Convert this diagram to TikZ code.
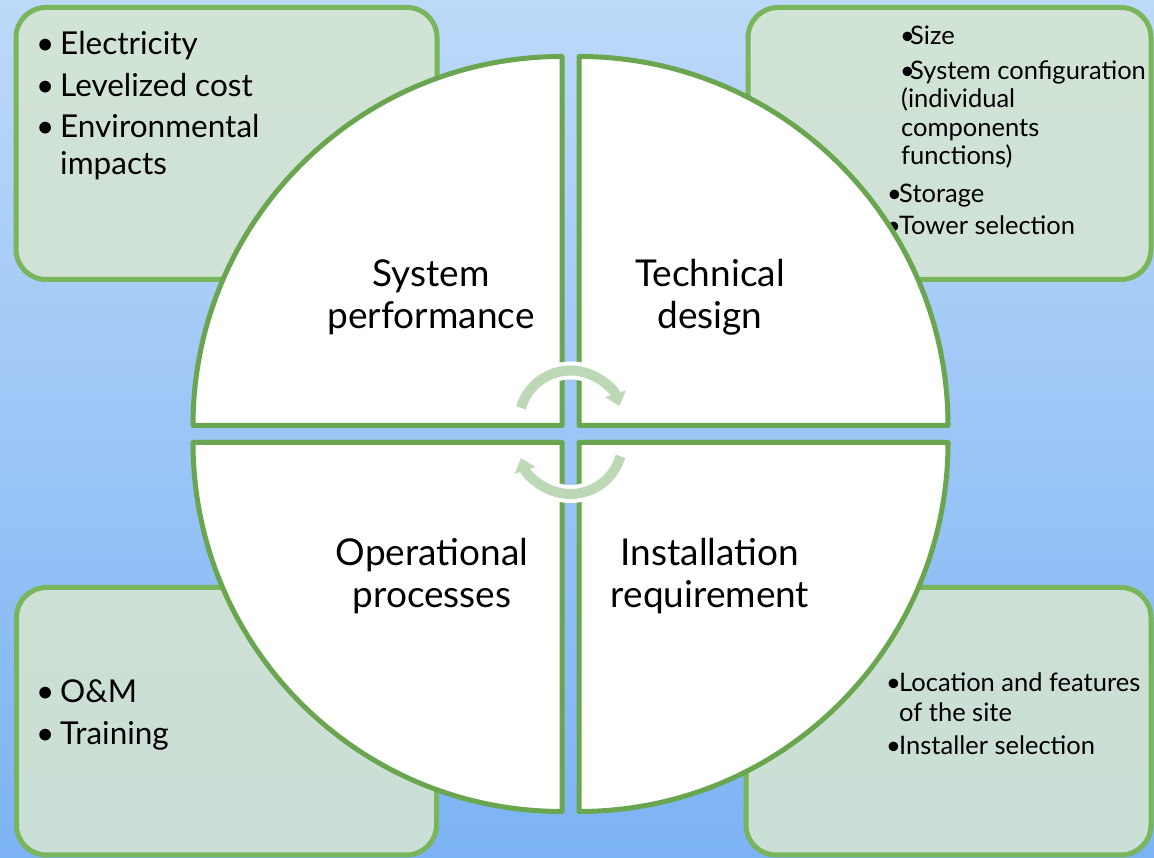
\documentclass[tikz,border=0pt]{standalone}
\usepackage{fontspec}
\setmainfont{Lato}
\usetikzlibrary{arrows.meta}

\definecolor{bgtop}{HTML}{BDD9F9}
\definecolor{bgbot}{HTML}{7CB3F4}
\definecolor{boxfill}{RGB}{213,229,209}
\definecolor{boxline}{HTML}{79B55B}
\definecolor{quadline}{HTML}{6AA64F}
\definecolor{cyclearrow}{HTML}{BDD8B6}

% bullet of a given width, text follows it
\newcommand\itm[1]{\makebox[#1][l]{•}}

\begin{document}
\begin{tikzpicture}[x=1pt,y=1pt,
  infobox/.style={draw=boxline, line width=5pt, fill=boxfill, fill opacity=0.88,
    rounded corners=30pt},
  quadrant/.style={draw=quadline, line width=5pt, fill=white, line join=round},
  bigitem/.style={anchor=base west, inner sep=0pt, font=\fontsize{31.5}{38}\selectfont},
  smallitem/.style={anchor=base west, inner sep=0pt, font=\fontsize{25.5}{30}\selectfont},
  qlabel/.style={align=center, inner sep=0pt, font=\fontsize{37}{42}\selectfont},
  halo/.style={draw=white, line width=18pt},
  cycle arrow/.style={draw=cyclearrow, line width=10pt,
    -{Triangle[width=21pt,length=13pt]}}
]
% canvas with vertical blue gradient
\useasboundingbox (0,0) rectangle (1154,858);
\shade[top color=bgtop, bottom color=bgbot] (0,0) rectangle (1154,858);

% corner boxes
\path[infobox] (16,578.5) rectangle (437,850.5);
\path[infobox] (748,578.5) rectangle (1151,850.5);
\path[infobox] (16.5,3) rectangle (436.5,270.5);
\path[infobox] (746,3) rectangle (1151,270.5);

% top-left list
\node[bigitem] (tl1) at (36,803) {\itm{24pt}Electricity};
\node[bigitem] (tl2) at (36,761) {\itm{24pt}Levelized cost};
\node[bigitem] (tl3) at (36,720) {\itm{24pt}Environmental};
\node[bigitem] (tl4) at (60,683) {impacts};

% top-right list
\node[smallitem] (tr1) at (900,813) {\itm{10pt}Size};
\node[smallitem] (tr2) at (900,778) {\itm{10pt}System configuration};
\node[smallitem] (tr3) at (901,750) {(individual};
\node[smallitem] (tr4) at (901,721) {components};
\node[smallitem] (tr5) at (901,693) {functions)};
\node[smallitem] (tr6) at (887,655) {\itm{12pt}Storage};
\node[smallitem] (tr7) at (886,623) {\itm{13pt}Tower selection};

% bottom-left list
\node[bigitem] (bl1) at (36,155) {\itm{24pt}O\&M};
\node[bigitem] (bl2) at (36,113) {\itm{24pt}Training};

% bottom-right list
\node[smallitem] (br1) at (886,166) {\itm{13pt}Location and features};
\node[smallitem] (br2) at (899,136) {of the site};
\node[smallitem] (br3) at (886,103) {\itm{13pt}Installer selection};

% the four quarter discs
\path[quadrant] (562,432.5) -- (562,801.5) arc[start angle=90, end angle=180, radius=369] -- cycle;
\path[quadrant] (579,432.5) -- (948,432.5) arc[start angle=0, end angle=90, radius=369] -- cycle;
\path[quadrant] (562,415.5) -- (193,415.5) arc[start angle=180, end angle=270, radius=369] -- cycle;
\path[quadrant] (579,415.5) -- (579,46.5) arc[start angle=270, end angle=360, radius=369] -- cycle;

\node[qlabel] (perf) at (431,561) {System\\performance};
\node[qlabel] (tech) at (710,561) {Technical\\design};
\node[qlabel] (oper) at (432,282) {Operational\\processes};
\node[qlabel] (inst) at (710,282) {Installation\\requirement};

% clockwise cycle arrows in the middle
\coordinate (ctop) at (570.5,436);
\coordinate (cbot) at (570.5,416);
\path[halo] (ctop) ++(164:51.5) arc[start angle=164, end angle=30, radius=51.5];
\path[cycle arrow] (ctop) ++(164:51.5) arc[start angle=164, end angle=18, radius=51.5];
\path[halo] (cbot) ++(-16:52) arc[start angle=-16, end angle=-150, radius=52];
\path[cycle arrow] (cbot) ++(-16:52) arc[start angle=-16, end angle=-162, radius=52];
\end{tikzpicture}
\end{document}
